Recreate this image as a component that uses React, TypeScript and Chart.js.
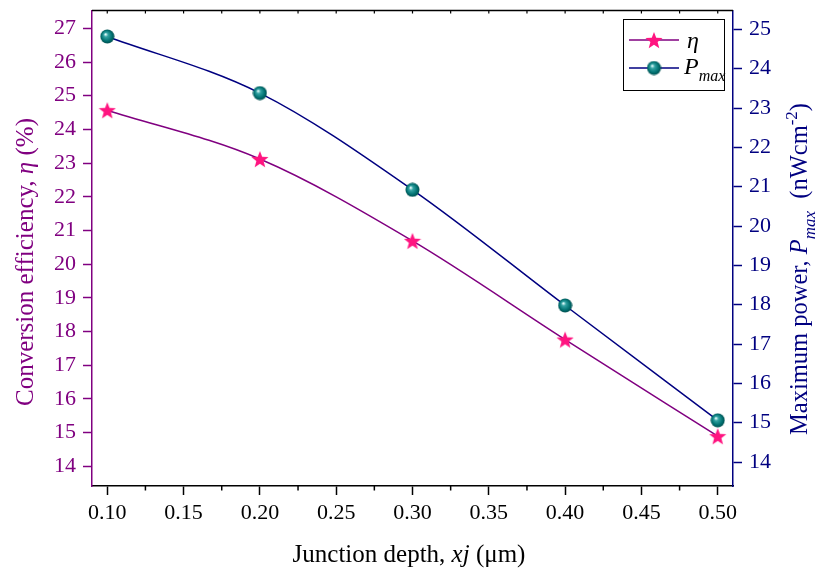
import React, { useEffect, useRef } from "react";
import { Chart, registerables } from "chart.js";

Chart.register(...registerables);

const xValues = [0.1, 0.2, 0.3, 0.4, 0.5];
const etaValues = [24.57, 23.12, 20.69, 17.76, 14.89];
const pmaxValues = [24.82, 23.38, 20.92, 17.98, 15.06];
const xTicks = [0.1, 0.15, 0.2, 0.25, 0.3, 0.35, 0.4, 0.45, 0.5];
const xMinorTicks = [0.125, 0.175, 0.225, 0.275, 0.325, 0.375, 0.425, 0.475];
const leftTicks = [14, 15, 16, 17, 18, 19, 20, 21, 22, 23, 24, 25, 26, 27];
const rightTicks = [14, 15, 16, 17, 18, 19, 20, 21, 22, 23, 24, 25];

const FONT = '"Liberation Serif", "Times New Roman", serif';
const PURPLE = "#800080";
const NAVY = "#000080";
const PINK = "#ff1480";

type Seg = { t: string; i?: boolean; sub?: boolean; sup?: boolean };

function segFont(s: Seg, size: number) {
  const sz = s.sub || s.sup ? Math.round(size * 0.68) : size;
  return `${s.i ? "italic " : ""}${sz}px ${FONT}`;
}

function drawRich(
  ctx: CanvasRenderingContext2D,
  segs: Seg[],
  x: number,
  y: number,
  size: number,
  color: string,
  rotate: boolean,
  align: "center" | "left" = "center"
) {
  ctx.save();
  ctx.translate(x, y);
  if (rotate) ctx.rotate(-Math.PI / 2);
  let total = 0;
  for (const s of segs) {
    ctx.font = segFont(s, size);
    total += ctx.measureText(s.t).width;
  }
  let cx = align === "center" ? -total / 2 : 0;
  ctx.fillStyle = color;
  ctx.textBaseline = "alphabetic";
  ctx.textAlign = "left";
  for (const s of segs) {
    ctx.font = segFont(s, size);
    let dy = size * 0.34;
    if (s.sub) dy += size * 0.3;
    if (s.sup) dy -= size * 0.42;
    ctx.fillText(s.t, cx, dy);
    cx += ctx.measureText(s.t).width;
  }
  ctx.restore();
}

function makeStar(size: number, color: string) {
  const c = document.createElement("canvas");
  c.width = size;
  c.height = size;
  const g = c.getContext("2d")!;
  const cx = size / 2;
  const cy = size / 2 + size * 0.05;
  const R = size / 2;
  const r = R * 0.42;
  g.beginPath();
  for (let k = 0; k < 10; k++) {
    const ang = -Math.PI / 2 + (k * Math.PI) / 5;
    const rad = k % 2 === 0 ? R : r;
    const px = cx + rad * Math.cos(ang);
    const py = cy + rad * Math.sin(ang);
    if (k === 0) g.moveTo(px, py);
    else g.lineTo(px, py);
  }
  g.closePath();
  g.fillStyle = color;
  g.fill();
  return c;
}

function makeSphere(size: number) {
  const c = document.createElement("canvas");
  c.width = size;
  c.height = size;
  const g = c.getContext("2d")!;
  const r = size / 2;
  const grad = g.createRadialGradient(r * 0.75, r * 0.7, r * 0.05, r, r, r);
  grad.addColorStop(0, "#e8ffff");
  grad.addColorStop(0.25, "#33a3a3");
  grad.addColorStop(0.7, "#007070");
  grad.addColorStop(1, "#004848");
  g.beginPath();
  g.arc(r, r, r - 0.5, 0, Math.PI * 2);
  g.fillStyle = grad;
  g.fill();
  return c;
}

export default function App() {
  const ref = useRef<HTMLCanvasElement | null>(null);

  useEffect(() => {
    if (!ref.current) return;
    const star = makeStar(18, PINK);
    const sphere = makeSphere(15);

    const decor = {
      id: "decor",
      afterDraw(chart: any) {
        const ctx: CanvasRenderingContext2D = chart.ctx;
        const a = chart.chartArea;
        const xs = chart.scales.x;
        ctx.save();
        ctx.strokeStyle = "#000";
        ctx.lineWidth = 1.5;
        ctx.beginPath();
        ctx.moveTo(a.left, a.top);
        ctx.lineTo(a.right, a.top);
        ctx.stroke();
        ctx.lineWidth = 1.2;
        for (const v of [...xTicks, ...xMinorTicks]) {
          const px = xs.getPixelForValue(v);
          ctx.beginPath();
          ctx.moveTo(px, a.top);
          ctx.lineTo(px, a.top + 3);
          ctx.stroke();
        }
        ctx.lineWidth = 1.5;
        for (const v of xMinorTicks) {
          const px = xs.getPixelForValue(v);
          ctx.beginPath();
          ctx.moveTo(px, a.bottom);
          ctx.lineTo(px, a.bottom + 4.5);
          ctx.stroke();
        }
        drawRich(
          ctx,
          [{ t: "Junction depth, " }, { t: "xj", i: true }, { t: " (μm)" }],
          409,
          553,
          25,
          "#000",
          false
        );
        drawRich(
          ctx,
          [{ t: "Conversion efficiency, " }, { t: "η", i: true }, { t: " (%)" }],
          24,
          262,
          25,
          PURPLE,
          true
        );
        drawRich(
          ctx,
          [
            { t: "Maximum power, " },
            { t: "P", i: true },
            { t: "max", i: true, sub: true },
            { t: "  (nWcm" },
            { t: "-2", sup: true },
            { t: ")" },
          ],
          799,
          269,
          24.5,
          NAVY,
          true
        );
        // legend
        ctx.strokeStyle = "#000";
        ctx.lineWidth = 1;
        ctx.strokeRect(623.5, 19.5, 101, 71);
        ctx.lineWidth = 1.5;
        ctx.strokeStyle = PURPLE;
        ctx.beginPath();
        ctx.moveTo(629, 40);
        ctx.lineTo(679, 40);
        ctx.stroke();
        ctx.drawImage(star, 654 - 9, 40 - 9);
        ctx.strokeStyle = NAVY;
        ctx.beginPath();
        ctx.moveTo(629, 68);
        ctx.lineTo(679, 68);
        ctx.stroke();
        ctx.drawImage(sphere, 654 - 7.5, 68 - 7.5);
        drawRich(ctx, [{ t: "η", i: true }], 687, 40, 24, "#000", false, "left");
        drawRich(
          ctx,
          [{ t: "P", i: true }, { t: "max", i: true, sub: true }],
          684,
          66,
          24,
          "#000",
          false,
          "left"
        );
        ctx.restore();
      },
    };

    const zeroPad = (s: any) => {
      s.paddingTop = 0;
      s.paddingBottom = 0;
      s.paddingLeft = 0;
      s.paddingRight = 0;
    };

    const chart = new Chart(ref.current, {
      type: "line",
      data: {
        datasets: [
          {
            label: "η",
            data: xValues.map((x, i) => ({ x, y: etaValues[i] })),
            yAxisID: "y",
            borderColor: PURPLE,
            borderWidth: 1.5,
            pointStyle: star as any,
            pointRadius: 9,
            cubicInterpolationMode: "monotone",
            fill: false,
          },
          {
            label: "Pmax",
            data: xValues.map((x, i) => ({ x, y: pmaxValues[i] })),
            yAxisID: "y1",
            borderColor: NAVY,
            borderWidth: 1.5,
            pointStyle: sphere as any,
            pointRadius: 7,
            cubicInterpolationMode: "monotone",
            fill: false,
          },
        ],
      },
      options: {
        responsive: false,
        animation: false,
        layout: { padding: { top: 9, left: 0, right: 0, bottom: 0 } },
        plugins: { legend: { display: false }, tooltip: { enabled: false } },
        scales: {
          x: {
            type: "linear",
            min: 0.09,
            max: 0.51,
            afterBuildTicks: (s: any) => {
              s.ticks = xTicks.map((v) => ({ value: v }));
            },
            afterFit: (s: any) => {
              s.height = 85;
              zeroPad(s);
            },
            border: { color: "#000", width: 1.5 },
            grid: {
              drawOnChartArea: false,
              tickLength: 9,
              tickColor: "#000",
              tickWidth: 1.5,
            },
            ticks: {
              color: "#000",
              padding: 5,
              maxRotation: 0,
              font: { family: FONT, size: 22 },
              callback: (v: any) => Number(v).toFixed(2),
            },
          },
          y: {
            type: "linear",
            position: "left",
            min: 13.41,
            max: 27.53,
            afterBuildTicks: (s: any) => {
              s.ticks = leftTicks.map((v) => ({ value: v }));
            },
            afterFit: (s: any) => {
              s.width = 92;
              zeroPad(s);
            },
            border: { color: PURPLE, width: 1.5 },
            grid: {
              drawOnChartArea: false,
              tickLength: 9,
              tickColor: PURPLE,
              tickWidth: 1.5,
            },
            ticks: {
              color: PURPLE,
              padding: 7,
              font: { family: FONT, size: 22 },
              callback: (v: any) => String(v),
            },
          },
          y1: {
            type: "linear",
            position: "right",
            min: 13.39,
            max: 25.48,
            afterBuildTicks: (s: any) => {
              s.ticks = rightTicks.map((v) => ({ value: v }));
            },
            afterFit: (s: any) => {
              s.width = 82;
              zeroPad(s);
            },
            border: { color: NAVY, width: 1.5 },
            grid: {
              drawOnChartArea: false,
              tickLength: 9,
              tickColor: NAVY,
              tickWidth: 1.5,
            },
            ticks: {
              color: NAVY,
              padding: 7,
              font: { family: FONT, size: 22 },
              callback: (v: any) => String(v),
            },
          },
        },
      },
      plugins: [decor],
    } as any);
    return () => chart.destroy();
  }, []);

  return (
    <div style={{ position: "fixed", left: 0, top: 0, width: 815, height: 571, background: "#fff" }}>
      <canvas ref={ref} width={815} height={571} style={{ width: 815, height: 571 }} />
    </div>
  );
}
